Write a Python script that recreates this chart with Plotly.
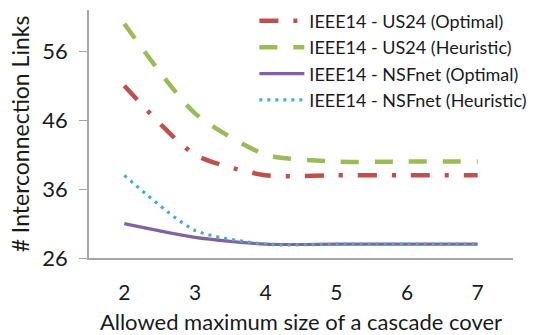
import plotly.graph_objects as go

x_vals = [2, 3, 4, 5, 6, 7]
us24_opt = [51, 41, 38, 38, 38, 38]
us24_heu = [60, 47, 41, 40, 40, 40]
nsf_opt = [31, 29, 28, 28, 28, 28]
nsf_heu = [38, 30, 28, 28, 28, 28]
y_ticks = [26, 36, 46, 56]

FONT = "Lato"
SM = 0.65

fig = go.Figure()
fig.add_trace(go.Scatter(x=x_vals, y=us24_opt, mode="lines", name="IEEE14 - US24 (Optimal)",
                         line=dict(color="#C0504D", width=4.5, dash="19px,15px,4px,15px",
                                   shape="spline", smoothing=SM)))
fig.add_trace(go.Scatter(x=x_vals, y=us24_heu, mode="lines", name="IEEE14 - US24 (Heuristic)",
                         line=dict(color="#9BBB59", width=4.5, dash="18px,16px",
                                   shape="spline", smoothing=SM)))
fig.add_trace(go.Scatter(x=x_vals, y=nsf_opt, mode="lines", name="IEEE14 - NSFnet (Optimal)",
                         line=dict(color="#8064A2", width=3.2, shape="spline", smoothing=SM)))
fig.add_trace(go.Scatter(x=x_vals, y=nsf_heu, mode="lines", name="IEEE14 - NSFnet (Heuristic)",
                         line=dict(color="#4BACC6", width=3.2, dash="3px,5px",
                                   shape="spline", smoothing=SM)))

fig.update_layout(
    width=555, height=335,
    margin=dict(l=89, r=42, t=10, b=77, autoexpand=False),
    paper_bgcolor="white", plot_bgcolor="white",
    font=dict(family=FONT, color="#1a1a1a"),
    legend=dict(x=0.39, y=1.03, xanchor="left", yanchor="top", bgcolor="rgba(0,0,0,0)",
                font=dict(size=18, family=FONT), tracegroupgap=0, itemwidth=45),
    xaxis=dict(range=[1.5, 7.5], tickvals=x_vals, showline=True, linecolor="#A6A6A6", linewidth=1.5,
               showgrid=False, zeroline=False, ticks="", tickfont=dict(size=21),
               ticklabelstandoff=15, automargin=False,
               title=dict(text="Allowed maximum size of a cascade cover", font=dict(size=22), standoff=14)),
    yaxis=dict(range=[26, 62], tickvals=y_ticks, showline=True, linecolor="#A6A6A6", linewidth=1.5,
               showgrid=False, zeroline=False, ticks="outside", ticklen=8, tickcolor="#A6A6A6",
               tickfont=dict(size=22), ticklabelstandoff=7, automargin=False,
               title=dict(text="# Interconnection Links", font=dict(size=23), standoff=6)),
)

fig.write_html("out.html")
